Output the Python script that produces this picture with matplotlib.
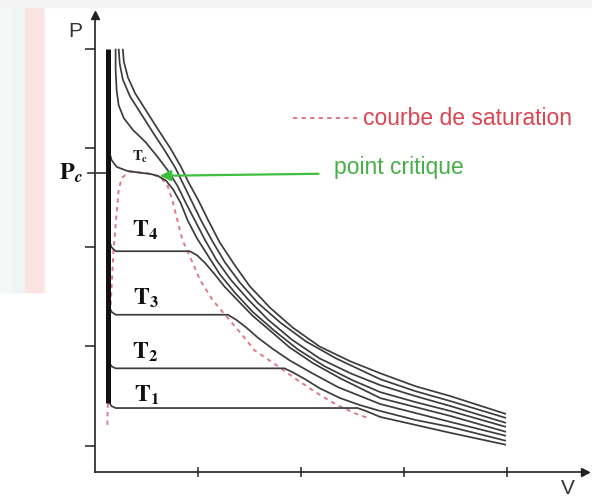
import matplotlib
matplotlib.use("Agg")
import matplotlib.pyplot as plt
from matplotlib.patches import Rectangle

plt.rcParams["mathtext.fontset"] = "stix"

# ---- isotherms of a real fluid in the (V, P) plane ----
# supercritical isotherms (outermost first)
s3_v = [0.27, 0.28, 0.32, 0.39, 0.50, 0.61, 0.73, 0.83, 0.91, 1.00, 1.10, 1.21, 1.35, 1.50, 1.70, 1.92, 2.18, 2.48, 2.77, 3.11, 3.45, 3.99]
s3_p = [5.00, 4.87, 4.71, 4.55, 4.37, 4.19, 4.00, 3.82, 3.65, 3.48, 3.27, 3.05, 2.83, 2.61, 2.39, 2.19, 2.00, 1.85, 1.73, 1.60, 1.50, 1.32]

s2_v = [0.23, 0.24, 0.27, 0.34, 0.45, 0.56, 0.68, 0.78, 0.86, 0.94, 1.03, 1.14, 1.26, 1.41, 1.58, 1.80, 2.05, 2.34, 2.77, 3.11, 3.45, 3.99]
s2_p = [5.00, 4.85, 4.69, 4.52, 4.34, 4.16, 3.97, 3.80, 3.63, 3.46, 3.27, 3.06, 2.85, 2.64, 2.44, 2.24, 2.05, 1.88, 1.67, 1.55, 1.45, 1.28]

s1_v = [0.20, 0.20, 0.21, 0.23, 0.28, 0.37, 0.49, 0.60, 0.71, 0.80, 0.88, 0.97, 1.07, 1.18, 1.32, 1.49, 1.68, 1.91, 2.18, 2.48, 2.77, 3.11, 3.45, 3.99]
s1_p = [5.00, 4.79, 4.58, 4.43, 4.30, 4.18, 4.06, 3.92, 3.77, 3.62, 3.45, 3.27, 3.07, 2.87, 2.67, 2.47, 2.27, 2.07, 1.88, 1.73, 1.61, 1.50, 1.40, 1.23]

# critical isotherm
tc_v = [0.13, 0.16, 0.21, 0.31, 0.44, 0.53, 0.61, 0.69, 0.76, 0.83, 0.90, 0.99, 1.10, 1.21, 1.36, 1.53, 1.74, 1.97, 2.23, 2.50, 2.77, 3.11, 3.45, 3.99]
tc_p = [4.00, 3.88, 3.81, 3.77, 3.75, 3.74, 3.72, 3.67, 3.58, 3.45, 3.27, 3.09, 2.91, 2.73, 2.54, 2.35, 2.16, 1.97, 1.80, 1.66, 1.54, 1.44, 1.35, 1.19]

# subcritical isotherms with their liquid-vapour plateau
t4_v = [0.13, 0.16, 0.20, 0.92, 0.99, 1.07, 1.16, 1.26, 1.39, 1.53, 1.70, 1.89, 2.12, 2.38, 2.77, 3.11, 3.45, 3.99]
t4_p = [3.09, 3.00, 2.96, 2.96, 2.92, 2.84, 2.73, 2.60, 2.46, 2.31, 2.16, 1.99, 1.83, 1.68, 1.48, 1.39, 1.30, 1.14]

t3_v = [0.13, 0.16, 0.20, 1.29, 1.37, 1.47, 1.58, 1.72, 1.89, 2.11, 2.36, 2.77, 3.11, 3.45, 3.99]
t3_p = [2.42, 2.35, 2.32, 2.32, 2.27, 2.19, 2.09, 1.98, 1.86, 1.73, 1.59, 1.42, 1.33, 1.24, 1.10]

t2_v = [0.13, 0.16, 0.20, 1.84, 1.92, 2.04, 2.18, 2.38, 2.57, 2.77, 3.11, 3.45, 3.99]
t2_p = [1.86, 1.80, 1.78, 1.78, 1.74, 1.67, 1.58, 1.48, 1.41, 1.35, 1.26, 1.19, 1.05]

t1_v = [0.13, 0.16, 0.20, 2.55, 2.63, 2.77, 3.11, 3.45, 3.99]
t1_p = [1.45, 1.40, 1.38, 1.38, 1.35, 1.29, 1.21, 1.13, 1.01]

# liquid branches (nearly vertical, merged into one heavy stroke)
liq_v = [0.13, 0.13]
liq_p = [5.00, 1.43]

# saturation dome
sat_v = [0.12, 0.13, 0.14, 0.16, 0.18, 0.21, 0.23, 0.26, 0.34, 0.49, 0.63, 0.70, 0.75, 0.80, 0.85, 0.92, 1.02, 1.14, 1.27, 1.41, 1.55, 1.75, 1.94, 2.14, 2.35, 2.54, 2.65]
sat_p = [1.21, 1.66, 2.17, 2.57, 2.97, 3.34, 3.58, 3.70, 3.76, 3.75, 3.71, 3.63, 3.48, 3.27, 3.07, 2.91, 2.67, 2.47, 2.31, 2.14, 1.96, 1.82, 1.68, 1.54, 1.41, 1.32, 1.28]

# critical point and critical pressure
crit_v, crit_p = 0.63, 3.72
pc = 3.75

iso_labels = [r"$\mathbf{T}_\mathbf{1}$", r"$\mathbf{T}_\mathbf{2}$", r"$\mathbf{T}_\mathbf{3}$", r"$\mathbf{T}_\mathbf{4}$"]
iso_label_v = [0.50, 0.49, 0.49, 0.49]
iso_label_p = [1.51, 1.94, 2.49, 3.17]

y_ticks = [1, 2, 3, 4, 5]
x_ticks = [1, 2, 3, 4]

W, H = 592, 497
fig = plt.figure(figsize=(W / 100, H / 100), dpi=100)
fig.patch.set_facecolor("white")

# faint backdrop on the left margin and along the top edge
fig.patches.append(Rectangle((0, 205 / H), 45 / W, 292 / H, transform=fig.transFigure,
                             color="#f6f7f7", zorder=-11))
fig.patches.append(Rectangle((13 / W, 205 / H), 12 / W, 292 / H, transform=fig.transFigure,
                             color="#edf5f5", zorder=-10))
fig.patches.append(Rectangle((25 / W, 205 / H), 18 / W, 292 / H, transform=fig.transFigure,
                             color="#fbe3e3", zorder=-10))
fig.patches.append(Rectangle((0, 490 / H), 1, 7 / H, transform=fig.transFigure,
                             color="#f3f3f3", zorder=-10))

ax = fig.add_axes([95 / W, 25 / H, 490 / W, 457 / H])
ax.set_xlim(0, 4.757)
ax.set_ylim(0.7355, 5.34)
ax.patch.set_alpha(0)

for s in ("top", "right"):
    ax.spines[s].set_visible(False)
for s in ("left", "bottom"):
    ax.spines[s].set_linewidth(1.2)
    ax.spines[s].set_color("#222222")

ax.set_yticks(y_ticks)
ax.set_xticks(x_ticks)
ax.set_yticklabels([])
ax.set_xticklabels([])
ax.tick_params(axis="y", direction="out", length=7, width=1.2, color="#333333")
ax.tick_params(axis="x", direction="inout", length=7, width=1.2, color="#333333")

# axis arrows
ax.plot(0, 1, marker="^", ms=6, color="#222222", transform=ax.transAxes, clip_on=False)
ax.plot(1, 0, marker=">", ms=6, color="#222222", transform=ax.transAxes, clip_on=False)

# saturation curve
sat_style = dict(color="#dc6070", lw=1.4, ls=(0, (2.2, 2.2)), alpha=0.85)
ax.plot(sat_v, sat_p, **sat_style, zorder=2)

iso_style = dict(color="#3c3c3c", lw=1.25, solid_joinstyle="round", solid_capstyle="butt", zorder=3)
for v, p in [(s3_v, s3_p), (s2_v, s2_p), (s1_v, s1_p), (tc_v, tc_p),
             (t4_v, t4_p), (t3_v, t3_p), (t2_v, t2_p), (t1_v, t1_p)]:
    ax.plot(v, p, **iso_style)

ax.plot(liq_v, liq_p, color="#111111", lw=3.6, solid_capstyle="butt", zorder=4)

# critical pressure marker
ax.plot([-0.07, 0.13], [pc, pc], color="#333333", lw=1.2, clip_on=False, zorder=3)

# critical point pointer
ax.annotate("", xy=(crit_v, crit_p), xytext=(2.17, 3.74),
            arrowprops=dict(arrowstyle="-|>", color="#3fbf3f", lw=1.6, mutation_scale=16,
                            shrinkA=0, shrinkB=0), zorder=5)
ax.text(2.32, 3.80, "point critique", color="#45b045", fontsize=16.5, va="center", ha="left",
        family="Liberation Sans")

# saturation legend
ax.plot([1.92, 2.55], [4.30, 4.30], **sat_style)
ax.text(2.60, 4.30, "courbe de saturation", color="#dc4452", fontsize=16.5, va="center", ha="left",
        family="Liberation Sans")

# isotherm labels
for lab, v, p in zip(iso_labels, iso_label_v, iso_label_p):
    ax.text(v, p, lab, fontsize=17, ha="center", va="center", color="#111111")
ax.text(0.44, 3.91, r"$\mathbf{T}_\mathbf{c}$", fontsize=10.5, ha="center", va="center", color="#222222")

# axis names and critical pressure label
ax.text(-0.23, pc, r"$\mathbf{P}_{\boldsymbol{c}}$", fontsize=17.5, ha="center", va="center",
        color="#111111", clip_on=False)
ax.text(-0.19, 5.17, "P", fontsize=15, ha="center", va="center", color="#333333",
        family="Liberation Sans", clip_on=False)
ax.text(4.59, 0.57, "V", fontsize=15, ha="center", va="center", color="#333333",
        family="Liberation Sans", clip_on=False)

fig.savefig("out.png", dpi=100)
